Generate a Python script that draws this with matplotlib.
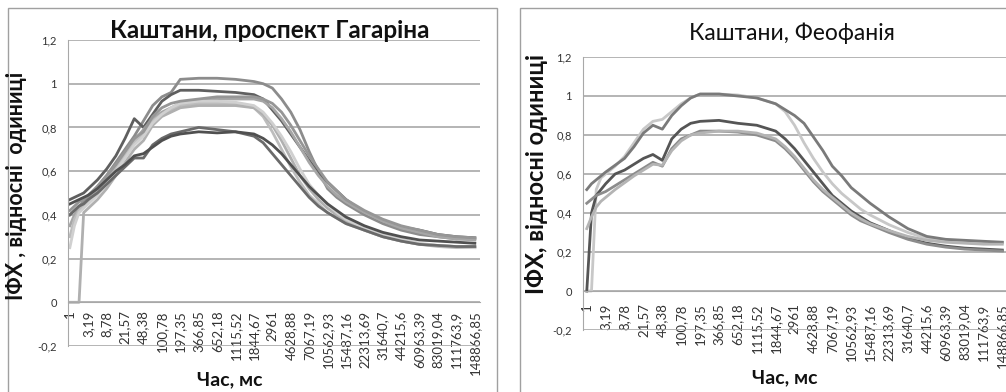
import matplotlib
matplotlib.use("Agg")
import matplotlib.pyplot as plt
from matplotlib.patches import Rectangle

plt.rcParams["font.family"] = ["Lato", "Noto Sans", "DejaVu Sans"]

# category labels (time, ms) shown on the x axis, one per label slot
time_labels = ["1", "3,19", "8,78", "21,57", "48,38", "100,78", "197,35",
               "366,85", "652,18", "1115,52", "1844,67", "2961", "4628,88",
               "7067,19", "10562,93", "15487,16", "22313,69", "31640,7",
               "44215,6", "60963,39", "83019,04", "111763,9", "148866,85"]

# sampled positions along the category axis (in label slots)
u = [0, 0.25, 0.5, 0.75, 1, 1.5, 2, 2.5, 3, 3.5, 4, 4.5, 5, 5.5, 6, 7, 8, 9,
     10, 10.5, 11, 11.5, 12, 12.5, 13, 13.5, 14, 14.5, 15, 16, 17, 18, 19, 20, 21, 22]

# --- Каштани, проспект Гагаріна ---
gag_1 = [0.40, 0.42, 0.44, 0.46, 0.48, 0.53, 0.58, 0.64, 0.70, 0.76, 0.83, 0.90, 0.94, 0.96,
         1.02, 1.025, 1.025, 1.02, 1.01, 1.00, 0.98, 0.93, 0.87, 0.79, 0.69, 0.60, 0.52, 0.48,
         0.45, 0.40, 0.36, 0.33, 0.31, 0.30, 0.29, 0.29]
gag_2 = [0.47, 0.48, 0.49, 0.50, 0.52, 0.56, 0.61, 0.67, 0.75, 0.84, 0.80, 0.86, 0.92, 0.95,
         0.97, 0.97, 0.965, 0.96, 0.95, 0.93, 0.88, 0.83, 0.77, 0.71, 0.65, 0.59, 0.55, 0.51,
         0.47, 0.41, 0.37, 0.345, 0.33, 0.31, 0.30, 0.295]
gag_3 = [0.35, 0.40, 0.43, 0.45, 0.47, 0.51, 0.56, 0.62, 0.68, 0.74, 0.79, 0.84, 0.87, 0.89,
         0.91, 0.92, 0.93, 0.93, 0.93, 0.92, 0.89, 0.84, 0.78, 0.71, 0.64, 0.58, 0.53, 0.49,
         0.46, 0.41, 0.37, 0.34, 0.32, 0.30, 0.29, 0.285]
gag_4 = [0.30, 0.38, 0.42, 0.44, 0.46, 0.50, 0.55, 0.61, 0.67, 0.73, 0.77, 0.83, 0.86, 0.88,
         0.90, 0.91, 0.91, 0.91, 0.89, 0.85, 0.78, 0.70, 0.62, 0.55, 0.49, 0.45, 0.41, 0.385,
         0.36, 0.33, 0.30, 0.28, 0.265, 0.255, 0.25, 0.25]
gag_5 = [0.0, 0.0, 0.0, 0.41, 0.43, 0.47, 0.52, 0.58, 0.64, 0.70, 0.74, 0.81, 0.85, 0.87,
         0.89, 0.90, 0.90, 0.90, 0.89, 0.86, 0.81, 0.74, 0.66, 0.58, 0.52, 0.47, 0.43, 0.40,
         0.37, 0.33, 0.30, 0.28, 0.265, 0.26, 0.255, 0.255]
gag_6 = [0.25, 0.35, 0.41, 0.43, 0.45, 0.49, 0.54, 0.60, 0.66, 0.72, 0.76, 0.82, 0.86, 0.89,
         0.91, 0.92, 0.92, 0.915, 0.90, 0.87, 0.82, 0.76, 0.69, 0.61, 0.54, 0.49, 0.45, 0.41,
         0.38, 0.34, 0.31, 0.29, 0.27, 0.26, 0.255, 0.25]
gag_7 = [0.42, 0.44, 0.46, 0.47, 0.49, 0.53, 0.58, 0.63, 0.69, 0.75, 0.78, 0.85, 0.89, 0.91,
         0.92, 0.93, 0.94, 0.94, 0.94, 0.93, 0.91, 0.87, 0.81, 0.74, 0.67, 0.61, 0.55, 0.51,
         0.47, 0.42, 0.38, 0.35, 0.33, 0.31, 0.30, 0.295]
gag_8 = [0.40, 0.42, 0.44, 0.45, 0.47, 0.50, 0.54, 0.58, 0.62, 0.66, 0.66, 0.72, 0.75, 0.77,
         0.78, 0.80, 0.79, 0.78, 0.76, 0.73, 0.68, 0.63, 0.58, 0.53, 0.48, 0.44, 0.41, 0.385,
         0.36, 0.33, 0.30, 0.28, 0.265, 0.26, 0.255, 0.255]
gag_9 = [0.45, 0.46, 0.47, 0.48, 0.49, 0.52, 0.56, 0.60, 0.63, 0.67, 0.68, 0.71, 0.74, 0.76,
         0.77, 0.78, 0.775, 0.78, 0.77, 0.75, 0.72, 0.68, 0.63, 0.58, 0.53, 0.49, 0.45, 0.42,
         0.39, 0.35, 0.32, 0.30, 0.285, 0.28, 0.275, 0.27]

# --- Каштани, Феофанія ---
feo_1 = [0.0, 0.0, 0.52, 0.58, 0.60, 0.64, 0.69, 0.76, 0.83, 0.87, 0.88, 0.92, 0.96, 0.99,
         1.01, 1.01, 1.005, 0.99, 0.96, 0.92, 0.85, 0.76, 0.68, 0.61, 0.55, 0.50, 0.46, 0.42,
         0.39, 0.34, 0.30, 0.27, 0.26, 0.255, 0.25, 0.25]
feo_2 = [0.52, 0.55, 0.57, 0.59, 0.61, 0.645, 0.68, 0.74, 0.81, 0.85, 0.83, 0.90, 0.95, 0.99,
         1.01, 1.01, 1.00, 0.99, 0.96, 0.93, 0.90, 0.86, 0.79, 0.72, 0.64, 0.59, 0.53, 0.49,
         0.45, 0.38, 0.32, 0.28, 0.265, 0.26, 0.255, 0.25]
feo_3 = [0.0, 0.40, 0.49, 0.52, 0.55, 0.60, 0.62, 0.65, 0.68, 0.70, 0.67, 0.78, 0.83, 0.86,
         0.87, 0.875, 0.86, 0.85, 0.82, 0.78, 0.73, 0.67, 0.61, 0.55, 0.49, 0.45, 0.41, 0.38,
         0.35, 0.31, 0.27, 0.245, 0.23, 0.22, 0.215, 0.21]
feo_4 = [0.45, 0.47, 0.49, 0.50, 0.51, 0.54, 0.57, 0.60, 0.63, 0.66, 0.64, 0.73, 0.78, 0.80,
         0.82, 0.82, 0.815, 0.80, 0.77, 0.73, 0.68, 0.62, 0.56, 0.51, 0.47, 0.43, 0.39, 0.36,
         0.34, 0.30, 0.265, 0.24, 0.225, 0.215, 0.21, 0.205]
feo_5 = [0.32, 0.38, 0.43, 0.46, 0.48, 0.52, 0.555, 0.59, 0.62, 0.65, 0.645, 0.72, 0.77, 0.80,
         0.81, 0.82, 0.82, 0.81, 0.78, 0.74, 0.69, 0.63, 0.57, 0.52, 0.48, 0.44, 0.40, 0.37,
         0.345, 0.31, 0.28, 0.26, 0.25, 0.245, 0.24, 0.24]

y_ticks = [-0.2, 0, 0.2, 0.4, 0.6, 0.8, 1, 1.2]
y_tick_labels = ["-0,2", "0", "0,2", "0,4", "0,6", "0,8", "1", "1,2"]

W, H = 1006, 392
fig = plt.figure(figsize=(W / 100, H / 100), dpi=100)


def fx(px):
    return px / W


def fy(py):
    return 1 - py / H


# chart area borders
for x0, x1 in [(8, 497), (520, 1030)]:
    fig.patches.append(Rectangle((fx(x0), fy(420)), fx(x1 - x0), (420 - 8) / H,
                                 transform=fig.transFigure, fill=False,
                                 edgecolor="#a0a0a0", lw=1.0))


def draw_panel(ax, series, colors, xlim, xpad):
    # axis crosses at y=0 (set before ticks, it resets them)
    ax.spines["bottom"].set_position(("data", 0))
    for ys, c in zip(series, colors):
        ax.plot(u, ys, color=c, lw=2.0, solid_joinstyle="round")
    ax.set_xlim(*xlim)
    ax.set_ylim(-0.2, 1.2)
    ax.set_yticks(y_ticks)
    ax.set_yticklabels(y_tick_labels)
    ax.set_xticks(range(len(time_labels)))
    ax.set_xticklabels(time_labels)
    ax.yaxis.grid(True, color="#a8a8a8", lw=1.2)
    ax.set_axisbelow(True)
    ax.spines["bottom"].set_color("#a8a8a8")
    ax.spines["left"].set_color("#a8a8a8")
    ax.spines["top"].set_visible(False)
    ax.spines["right"].set_visible(False)
    ax.tick_params(axis="x", length=0, pad=xpad, labelsize=9.5, labelcolor="#333333",
                   labelrotation=90)
    ax.tick_params(axis="y", length=0, pad=8, labelsize=8, labelcolor="#333333")
    ax.set_facecolor("none")


ax1 = fig.add_axes([fx(68), fy(346), fx(480 - 68), (346 - 40) / H])
draw_panel(ax1, [gag_1, gag_2, gag_3, gag_4, gag_5, gag_6, gag_7, gag_8, gag_9],
           ["#8c8c8c", "#5f5f5f", "#a6a6a6", "#bdbdbd", "#b0b0b0", "#d0d0d0",
            "#969696", "#6a6a6a", "#505050"], (-0.1, 22.28), 6)

ax2 = fig.add_axes([fx(583), fy(330), fx(1008 - 583), (330 - 57) / H])
draw_panel(ax2, [feo_1, feo_2, feo_3, feo_4, feo_5],
           ["#c8c8c8", "#7a7a7a", "#555555", "#8c8c8c", "#b4b4b4"], (-0.2, 22.3), 9)

fig.text(fx(270), fy(30), "Каштани, проспект Гагаріна", ha="center", va="center",
         fontsize=17.5, fontweight="bold", color="#111111")
fig.text(fx(792), fy(33), "Каштани, Феофанія", ha="center", va="center",
         fontsize=16.5, color="#111111")
fig.text(fx(17), fy(186), "ІФХ , відносні  одиниці", rotation=90, ha="center", va="center",
         fontsize=15.5, fontweight="bold", color="#111111")
fig.text(fx(537), fy(174), "ІФХ, відносні одиниці", rotation=90, ha="center", va="center",
         fontsize=17, fontweight="bold", color="#111111")
fig.text(fx(230), fy(380), "Час, мс", ha="center", va="center",
         fontsize=14, fontweight="bold", color="#111111")
fig.text(fx(785), fy(378), "Час, мс", ha="center", va="center",
         fontsize=14, fontweight="bold", color="#111111")

fig.savefig("out.png", dpi=100, facecolor="white")
